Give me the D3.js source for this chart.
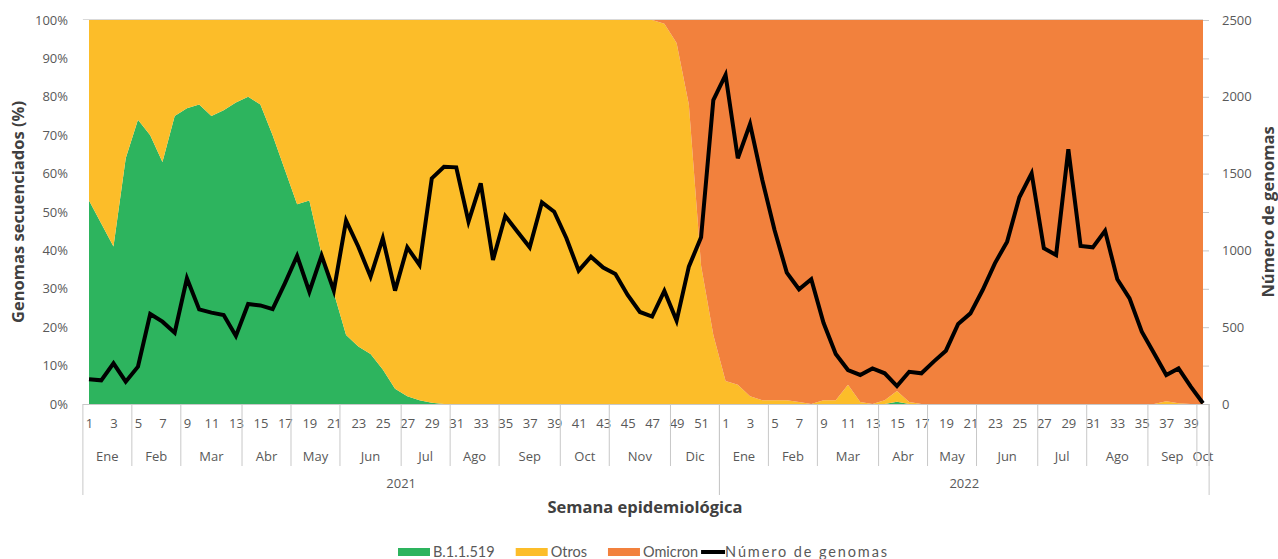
<!DOCTYPE html>
<html>
<head>
<meta charset="utf-8">
<script src="https://cdn.jsdelivr.net/npm/d3@7"></script>
<style>
  body { margin: 0; background: #fff; }
  svg { display: block; font-family: "Open Sans", sans-serif; }
</style>
</head>
<body>
<svg id="chart" width="1278" height="559"></svg>
<script>
// semanas epidemiológicas: 2021 (1-52) y 2022 (1-40)
var years = [2021, 2022];
var weeksPerYear = [52, 40];

// meses: nombre y última semana de cada mes
var months2021 = [["Ene", 4], ["Feb", 8], ["Mar", 13], ["Abr", 17], ["May", 21], ["Jun", 26],
                  ["Jul", 30], ["Ago", 34], ["Sep", 39], ["Oct", 43], ["Nov", 48], ["Dic", 52]];
var months2022 = [["Ene", 4], ["Feb", 8], ["Mar", 13], ["Abr", 17], ["May", 21], ["Jun", 26],
                  ["Jul", 30], ["Ago", 35], ["Sep", 39], ["Oct", 40]];

// porcentaje de genomas por linaje
var b11519 = [53, 47, 41, 64, 74, 70, 63, 75, 77, 78, 75, 76.5, 78.5, 80, 78, 70, 61, 52, 53, 39,
              29, 18, 15, 13, 9, 4, 2, 1, 0.3, 0, 0, 0, 0, 0, 0, 0, 0, 0, 0, 0,
              0, 0, 0, 0, 0, 0, 0, 0, 0, 0, 0, 0,
              0, 0, 0, 0, 0, 0, 0, 0, 0, 0, 0, 0, 0, 0, 0.6, 0, 0, 0, 0, 0,
              0, 0, 0, 0, 0, 0, 0, 0, 0, 0, 0, 0, 0, 0, 0, 0, 0, 0, 0, 0];
var otros = [47, 53, 59, 36, 26, 30, 37, 25, 23, 22, 25, 23.5, 21.5, 20, 22, 30, 39, 48, 47, 61,
             71, 82, 85, 87, 91, 96, 98, 99, 99.7, 100, 100, 100, 100, 100, 100, 100, 100, 100, 100, 100,
             100, 100, 100, 100, 100, 100, 100, 99, 94, 78, 36, 18,
             6, 5, 2, 1, 1, 1, 0.5, 0, 1, 1, 5, 0.5, 0, 1, 2.8, 0.5, 0, 0, 0, 0,
             0, 0, 0, 0, 0, 0, 0, 0, 0, 0, 0, 0, 0, 0, 0, 0, 0.7, 0.2, 0, 0];
var omicron = [0, 0, 0, 0, 0, 0, 0, 0, 0, 0, 0, 0, 0, 0, 0, 0, 0, 0, 0, 0,
               0, 0, 0, 0, 0, 0, 0, 0, 0, 0, 0, 0, 0, 0, 0, 0, 0, 0, 0, 0,
               0, 0, 0, 0, 0, 0, 0, 1, 6, 22, 64, 82,
               94, 95, 98, 99, 99, 99, 99.5, 100, 99, 99, 95, 99.5, 100, 99, 96.6, 99.5, 100, 100, 100, 100,
               100, 100, 100, 100, 100, 100, 100, 100, 100, 100, 100, 100, 100, 100, 100, 100, 99.3, 99.8, 100, 100];

// número de genomas secuenciados por semana
var genomas = [161, 154, 265, 145, 243, 586, 536, 464, 818, 616, 595, 579, 443, 651, 642, 618, 786, 964, 731, 966,
               738, 1194, 1024, 829, 1079, 738, 1020, 905, 1469, 1545, 1541, 1187, 1437, 938, 1224, 1122, 1020, 1313, 1252, 1079,
               868, 959, 888, 846, 710, 599, 569, 736, 543, 894, 1085, 1979,
               2142, 1600, 1823, 1458, 1133, 855, 747, 812, 529, 326, 221, 189, 232, 200, 117, 210, 200, 276, 347, 521,
               590, 742, 916, 1057, 1346, 1502, 1014, 970, 1658, 1029, 1020, 1128, 812, 688, 471, 330, 189, 232, 113, 5];

var pctTicks = [0, 10, 20, 30, 40, 50, 60, 70, 80, 90, 100];
var countTicks = [0, 250, 500, 750, 1000, 1250, 1500, 1750, 2000, 2250, 2500];

var series = [
    { key: "b11519", name: "B.1.1.519", color: "#2db45e" },
    { key: "otros", name: "Otros", color: "#fcbd29" },
    { key: "omicron", name: "Omicron", color: "#f2813d" }
];

// filas por semana
var rows = [];
years.forEach(function(yr, yi) {
    for (var w = 1; w <= weeksPerYear[yi]; w++) {
        var i = rows.length;
        rows.push({ id: yr + "-" + w, year: yr, week: w,
                    b11519: b11519[i], otros: otros[i], omicron: omicron[i], genomas: genomas[i] });
    }
});

var svg = d3.select("#chart");
var plotLeft = 89, plotRight = 1203, plotTop = 20, plotBottom = 404;
var textColor = "#595959", lineColor = "#c8c8c8";

var x = d3.scalePoint().domain(rows.map(d => d.id)).range([plotLeft, plotRight]);
var step = x.step();
var yPct = d3.scaleLinear().domain([0, 100]).range([plotBottom, plotTop]);
var yNum = d3.scaleLinear().domain([0, 2500]).range([plotBottom, plotTop]);

// áreas apiladas
var stack = d3.stack().keys(series.map(s => s.key));
var stacked = stack(rows);
var area = d3.area()
    .x(d => x(d.data.id))
    .y0(d => yPct(d[0]))
    .y1(d => yPct(d[1]));

svg.append("g").selectAll("path")
    .data(stacked)
    .enter().append("path")
    .attr("d", area)
    .attr("fill", (d, i) => series[i].color);

// línea superior (100%)
svg.append("line")
    .attr("x1", plotLeft - step / 2).attr("x2", plotRight)
    .attr("y1", yPct(100) - 0.5).attr("y2", yPct(100) - 0.5)
    .attr("stroke", "#d9d9d9").attr("stroke-width", 1);

// línea del número de genomas
var line = d3.line()
    .x(d => x(d.id))
    .y(d => yNum(d.genomas));

svg.append("path")
    .datum(rows)
    .attr("d", line)
    .attr("fill", "none")
    .attr("stroke", "#000")
    .attr("stroke-width", 4)
    .attr("stroke-linejoin", "miter");

// eje izquierdo (%)
var yAxisL = svg.append("g")
    .attr("transform", "translate(" + (plotLeft - 17) + ",0)")
    .call(d3.axisLeft(yPct).tickValues(pctTicks).tickFormat(d => d + "%").tickSize(0).tickPadding(4));
yAxisL.select(".domain").remove();
yAxisL.selectAll("text").attr("fill", textColor).style("font-size", "13px").style("font-family", "Open Sans");

// eje derecho (número)
var yAxisR = svg.append("g")
    .attr("transform", "translate(" + plotRight + ",0)")
    .call(d3.axisRight(yNum).tickValues(countTicks).tickFormat(d => d % 500 === 0 ? d : "").tickSize(6).tickPadding(13));
yAxisR.select(".domain").remove();
yAxisR.selectAll("line").attr("stroke", lineColor);
yAxisR.selectAll("text").attr("fill", textColor).style("font-size", "13px").style("font-family", "Open Sans");

// eje x: semanas
var weekTicks = rows.filter(d => d.week % 2 === 1).map(d => d.id);
var xAxis = svg.append("g")
    .attr("transform", "translate(0," + plotBottom + ")")
    .call(d3.axisBottom(x).tickValues(weekTicks).tickFormat(id => id.split("-")[1]).tickSize(0).tickPadding(15));
xAxis.select(".domain").remove();
xAxis.selectAll("text").attr("fill", textColor).style("font-size", "13px").style("font-family", "Open Sans");

var axisEnd = plotRight + step / 2;
svg.append("line")
    .attr("x1", plotLeft - step / 2).attr("x2", axisEnd)
    .attr("y1", plotBottom + 0.5).attr("y2", plotBottom + 0.5)
    .attr("stroke", lineColor);

// meses
var monthRows = [months2021, months2022];
var labels = svg.append("g").attr("fill", textColor).style("font-size", "13px").attr("text-anchor", "middle");
years.forEach(function(yr, yi) {
    var start = 1;
    monthRows[yi].forEach(function(m) {
        var x0 = x(yr + "-" + start) - step / 2;
        var x1 = x(yr + "-" + m[1]) + step / 2;
        labels.append("text").attr("x", (x0 + x1) / 2).attr("y", 461).text(m[0]);
        svg.append("line")
            .attr("x1", x1).attr("x2", x1).attr("y1", plotBottom).attr("y2", 466)
            .attr("stroke", lineColor);
        start = m[1] + 1;
    });
    var y0 = x(yr + "-1") - step / 2;
    var y1 = x(yr + "-" + weeksPerYear[yi]) + step / 2;
    labels.append("text").attr("x", (y0 + y1) / 2).attr("y", 488).text(yr);
    [y0, y1].forEach(function(px) {
        svg.append("line")
            .attr("x1", px).attr("x2", px).attr("y1", plotBottom).attr("y2", 495)
            .attr("stroke", lineColor);
    });
});

// títulos de ejes
var titleColor = "#404040";
svg.append("text")
    .attr("x", 645).attr("y", 513)
    .attr("text-anchor", "middle")
    .attr("fill", titleColor)
    .style("font-size", "16.5px").style("font-weight", "bold")
    .text("Semana epidemiológica");

svg.append("text")
    .attr("transform", "translate(24,212) rotate(-90)")
    .attr("text-anchor", "middle")
    .attr("fill", titleColor)
    .style("font-size", "16.5px").style("font-weight", "bold")
    .text("Genomas secuenciados (%)");

svg.append("text")
    .attr("transform", "translate(1274,212) rotate(-90)")
    .attr("text-anchor", "middle")
    .attr("fill", titleColor)
    .style("font-size", "16.5px").style("font-weight", "bold")
    .text("Número de genomas");

// leyenda
var legendItems = series.map(s => ({ name: s.name, color: s.color, type: "area" }))
    .concat([{ name: "Número de genomas", color: "#000", type: "line" }]);
var legend = svg.append("g").attr("transform", "translate(398,0)")
    .style("font-family", "Lato").style("font-size", "14.5px");
var lx = 0;
legendItems.forEach(function(it) {
    if (it.type === "area") {
        legend.append("rect").attr("x", lx).attr("y", 548).attr("width", 32).attr("height", 8).attr("fill", it.color);
        lx += 35;
    } else {
        legend.append("line").attr("x1", lx).attr("x2", lx + 24).attr("y1", 552).attr("y2", 552)
            .attr("stroke", it.color).attr("stroke-width", 4);
        lx += 24;
    }
    var t = legend.append("text").attr("x", lx).attr("y", 557)
        .attr("fill", textColor).text(it.name);
    if (it.type === "line") t.attr("textLength", 162).attr("lengthAdjust", "spacing");
    lx += t.node().getComputedTextLength() + (it.name === "Omicron" ? 3 : 21);
});
</script>
</body>
</html>
